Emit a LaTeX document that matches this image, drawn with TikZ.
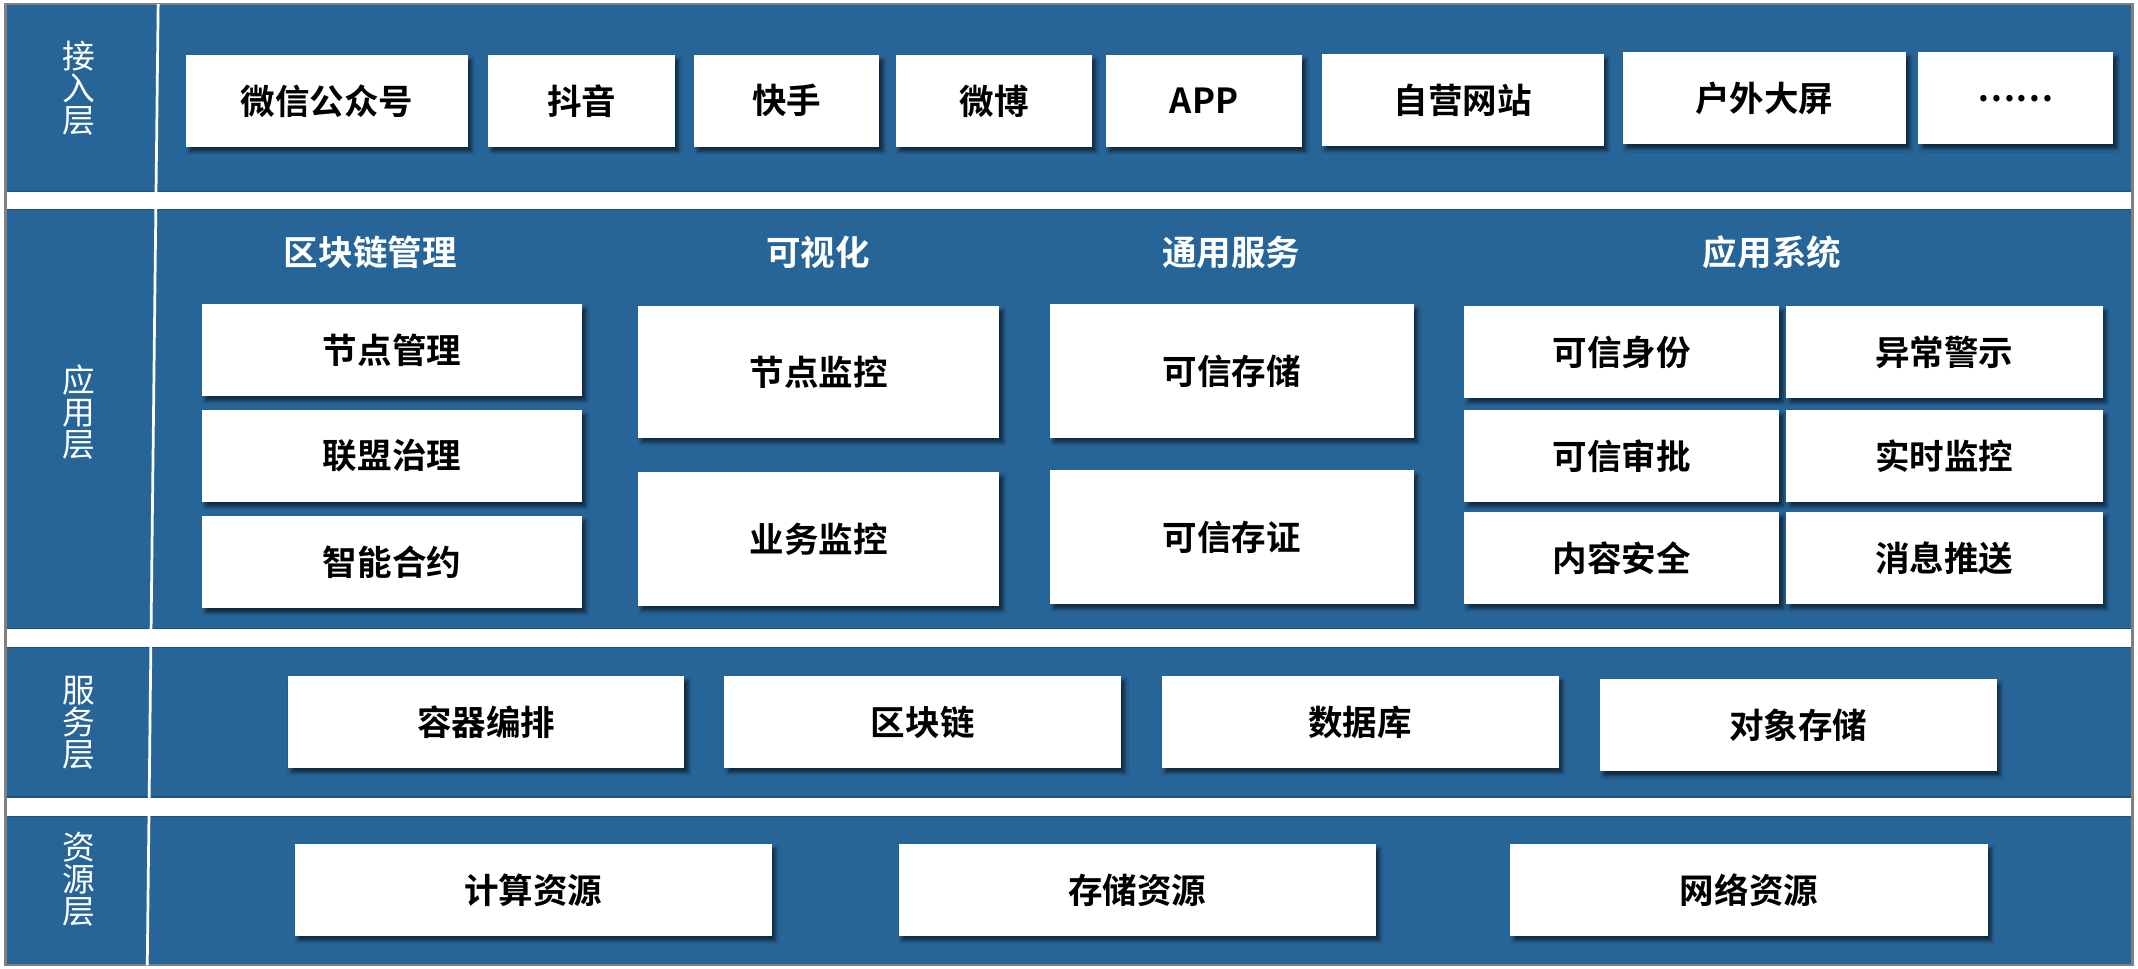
\documentclass[tikz,border=0pt]{standalone}
\usepackage{fontspec}
\setmainfont{Noto Sans CJK SC}[BoldFont={Noto Sans CJK SC Bold}]
\usetikzlibrary{shadows.blur}
\definecolor{panelblue}{RGB}{39,101,152}
\definecolor{frameline}{RGB}{128,128,128}
\tikzset{every picture/.style={line width=0.75pt}}

\begin{document}
\begin{tikzpicture}[x=0.75pt,y=0.75pt,yscale=-1,xscale=1,
	layer/.style={fill=panelblue, draw=panelblue!80!black, line width=0.6pt},
	box/.style={fill=white, inner sep=0pt, minimum height=50.5pt, text=black,
		font=\fontsize{19}{19}\selectfont\bfseries,
		blur shadow={shadow xshift=2pt, shadow yshift=-2.5pt, shadow blur radius=2pt, shadow opacity=60}},
	title/.style={text=white, font=\fontsize{19}{19}\selectfont\bfseries},
	side/.style={text=white, align=center, font=\fontsize{18}{17.6}\selectfont}]
		\useasboundingbox (0,0) rectangle (1568,710);
		
		%Shape: Rectangle [layers]
		\draw[layer] (4,3) rectangle (1564,140.5);
		\draw[layer] (4,153.5) rectangle (1564,461);
		\draw[layer] (4,475) rectangle (1564,584.5);
		\draw[layer] (4,599) rectangle (1564,708);
		%Shape: Rectangle [frame]
		\draw[frameline, line width=1.2pt] (4,3) rectangle (1564,708);
		%Straight Lines [divider]
		\draw[white, line width=1.5pt] (116,3) -- (108,708);
		
		% Text Node
		\draw (58,65) node [side] (sjr) {接\\入\\层};
		% Text Node
		\draw (58,302) node [side] (syy) {应\\用\\层};
		% Text Node
		\draw (58,530) node [side] (sfw) {服\\务\\层};
		% Text Node
		\draw (58,645) node [side] (szy) {资\\源\\层};
		
		% Access layer
		\draw (239.8,74) node [box, minimum width=155.1pt] (wxgzh) {微信公众号};
		\draw (426.5,74) node [box, minimum width=102.75pt] (dy) {抖音};
		\draw (577,74) node [box, minimum width=102pt] (ks) {快手};
		\draw (729,74) node [box, minimum width=108pt] (wb) {微博};
		\draw (883,74) node [box, minimum width=108pt] (app) {APP};
		\draw (1072.75,73.3) node [box, minimum width=154.9pt] (zywz) {自营网站};
		\draw (1294,72) node [box, minimum width=156pt] (hwdp) {户外大屏};
		\draw (1478.5,72) node [box, minimum width=107.25pt] (more) {……};
		
		% Application layer titles
		\draw (271.6,185) node [title] (tqkl) {区块链管理};
		\draw (600,185) node [title] (tksh) {可视化};
		\draw (903,185) node [title] (tty) {通用服务};
		\draw (1299.6,185) node [title] (tyy) {应用系统};
		
		% Application layer boxes
		\draw (287.5,256.75) node [box, minimum width=209.25pt] (jdgl) {节点管理};
		\draw (287.5,334.35) node [box, minimum width=209.25pt] (lmzl) {联盟治理};
		\draw (287.5,412.25) node [box, minimum width=209.25pt] (znhy) {智能合约};
		\draw (600.5,272.75) node [box, minimum width=198.75pt, minimum height=72.4pt] (jdjk) {节点监控};
		\draw (600.5,395.25) node [box, minimum width=198.75pt, minimum height=73.9pt] (ywjk) {业务监控};
		\draw (903.5,272) node [box, minimum width=200.25pt, minimum height=73.5pt] (kxcc) {可信存储};
		\draw (903.5,394) node [box, minimum width=200.25pt, minimum height=73.5pt] (kxcz) {可信存证};
		\draw (1189.5,258.25) node [box, minimum width=173.25pt] (kxsf) {可信身份};
		\draw (1426,258.25) node [box, minimum width=174pt] (ycjs) {异常警示};
		\draw (1189.5,334.5) node [box, minimum width=173.25pt] (kxsp) {可信审批};
		\draw (1426,334.5) node [box, minimum width=174pt] (ssjk) {实时监控};
		\draw (1189.5,409.25) node [box, minimum width=173.25pt] (nraq) {内容安全};
		\draw (1426,409.25) node [box, minimum width=174pt] (xxts) {消息推送};
		
		% Service layer
		\draw (356.5,529.5) node [box, minimum width=218.25pt] (rqbp) {容器编排};
		\draw (676.75,529.5) node [box, minimum width=218.25pt] (qkl) {区块链};
		\draw (997.5,529.5) node [box, minimum width=218.25pt] (sjk) {数据库};
		\draw (1318.75,532) node [box, minimum width=218.25pt] (dxcc) {对象存储};
		
		% Resource layer
		\draw (391,652.75) node [box, minimum width=262.5pt] (jszy) {计算资源};
		\draw (834,652.75) node [box, minimum width=262.5pt] (cczy) {存储资源};
		\draw (1282.75,652.75) node [box, minimum width=262.5pt] (wlzy) {网络资源};
		
\end{tikzpicture}
\end{document}
